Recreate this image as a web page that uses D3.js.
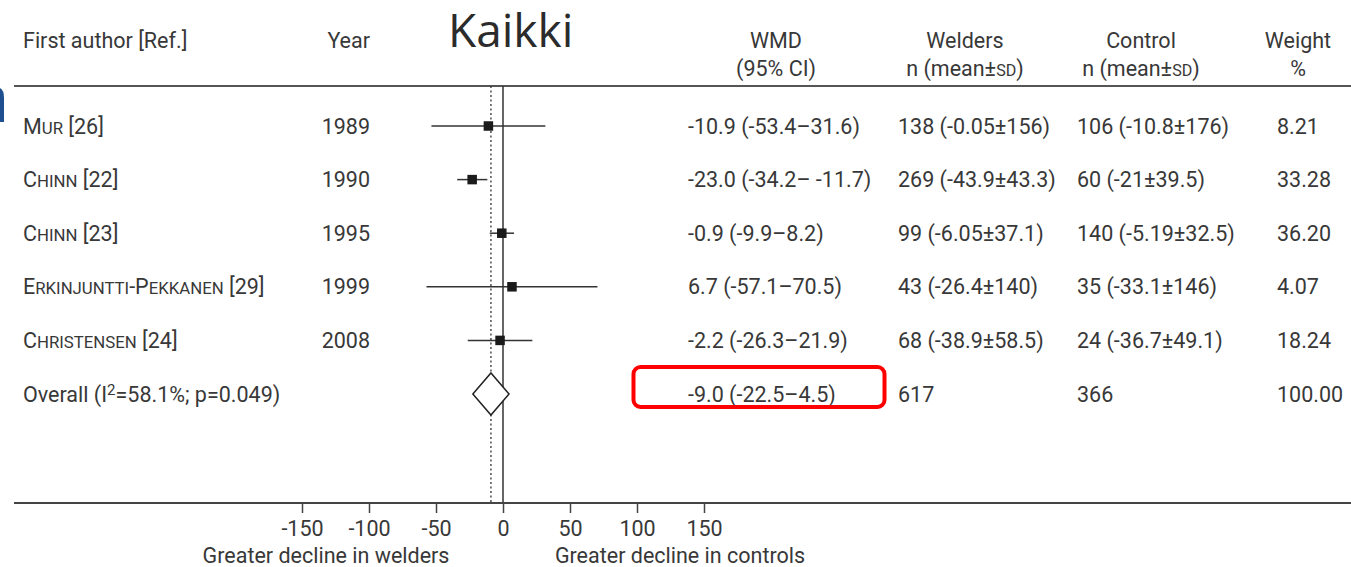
<!DOCTYPE html>
<html>
<head>
<meta charset="utf-8">
<script src="https://cdn.jsdelivr.net/npm/d3@7/dist/d3.min.js"></script>
<style>
  html, body { margin: 0; padding: 0; background: #fff; }
  svg { display: block; }
  text { font-family: Roboto, "Noto Sans", sans-serif; fill: #383838; }
</style>
</head>
<body>
<div id="main"></div>
<script>
// study rows
const authors = ['Mur', 'Chinn', 'Chinn', 'Erkinjuntti-Pekkanen', 'Christensen'];
const refs = [26, 22, 23, 29, 24];
const years = [1989, 1990, 1995, 1999, 2008];
const wmd = [-10.9, -23.0, -0.9, 6.7, -2.2];
const ciLow = [-53.4, -34.2, -9.9, -57.1, -26.3];
const ciHigh = [31.6, -11.7, 8.2, 70.5, 21.9];
const welders = ['138 (-0.05±156)', '269 (-43.9±43.3)', '99 (-6.05±37.1)', '43 (-26.4±140)', '68 (-38.9±58.5)'];
const controls = ['106 (-10.8±176)', '60 (-21±39.5)', '140 (-5.19±32.5)', '35 (-33.1±146)', '24 (-36.7±49.1)'];
const weights = ['8.21', '33.28', '36.20', '4.07', '18.24'];

// pooled estimate
const overallWmd = -9.0;
const overallLow = -22.5;
const overallHigh = 4.5;
const overallWelders = 617;
const overallControls = 366;
const overallWeight = '100.00';
const overallI2 = 58.1;
const overallP = 0.049;

const xTicks = [-150, -100, -50, 0, 50, 100, 150];

const width = 1351;
const height = 567;
const fs = 21.5;

const svg = d3.select('#main').append('svg')
    .attr('width', width)
    .attr('height', height);

const x = d3.scaleLinear()
    .domain([-150, 150])
    .range([302, 704]);
const y = d3.scaleLinear()
    .domain([0, 5])
    .range([126, 394]);

const topRule = 86;
const axisY = 503;

const fmt = (v) => v.toFixed(1);
const ciText = (w, lo, hi) => `${fmt(w)} (${fmt(lo)}–${hi < 0 ? ' ' : ''}${fmt(hi)})`;

// title
svg.append('text')
    .attr('x', 448)
    .attr('y', 47)
    .style('font-family', '"Open Sans", sans-serif')
    .style('font-size', '46px')
    .attr('fill', '#2b2b2b')
    .style('fill', '#2b2b2b')
    .text('Kaikki');

// blue fragment on the left edge
svg.append('path')
    .attr('d', 'M0,88 Q4,90 4,98 L4,122 L0,122 Z')
    .attr('fill', '#1d4f91');

// header
const header = svg.append('g').style('font-size', fs + 'px');
header.append('text').attr('x', 23).attr('y', 48).text('First author [Ref.]');
header.append('text').attr('x', 370).attr('y', 48).attr('text-anchor', 'end').text('Year');

function twoLine(cx, l1, l2) {
    header.append('text').attr('x', cx).attr('y', 48).attr('text-anchor', 'middle').text(l1);
    return header.append('text').attr('x', cx).attr('y', 76).attr('text-anchor', 'middle').text(l2);
}
twoLine(776, 'WMD', '(95% CI)');
['Welders', 'Control'].forEach((lab, i) => {
    const t = twoLine([965, 1141][i], lab, null).text('n (mean±');
    t.append('tspan').style('font-size', (fs * 0.75) + 'px').text('SD');
    t.append('tspan').text(')');
});
twoLine(1298, 'Weight', '%');

svg.append('line')
    .attr('x1', 14).attr('x2', width)
    .attr('y1', topRule).attr('y2', topRule)
    .attr('stroke', '#555').attr('stroke-width', 2);

// small caps author names
function smallCaps(sel, str) {
    const runs = [];
    for (const ch of str) {
        const big = ch !== ch.toLowerCase() || !/[a-z]/i.test(ch);
        if (runs.length && runs[runs.length - 1].big === big) runs[runs.length - 1].s += ch;
        else runs.push({ big: big, s: ch });
    }
    runs.forEach((r) => {
        sel.append('tspan')
            .style('font-size', r.big ? fs + 'px' : (fs * 0.78) + 'px')
            .text(r.big ? r.s : r.s.toUpperCase());
    });
}

const rows = svg.append('g').style('font-size', fs + 'px');
authors.forEach((a, i) => {
    const yy = y(i) + 7.5;
    const t = rows.append('text').attr('x', 23).attr('y', yy);
    smallCaps(t, a);
    t.append('tspan').text(` [${refs[i]}]`);
    rows.append('text').attr('x', 370).attr('y', yy).attr('text-anchor', 'end').text(years[i]);
    rows.append('text').attr('x', 688).attr('y', yy).text(ciText(wmd[i], ciLow[i], ciHigh[i]));
    rows.append('text').attr('x', 898).attr('y', yy).text(welders[i]);
    rows.append('text').attr('x', 1077).attr('y', yy).text(controls[i]);
    rows.append('text').attr('x', 1277).attr('y', yy).text(weights[i]);
});

const oy = y(5) + 7.5;
const ot = rows.append('text').attr('x', 23).attr('y', oy).text('Overall (I');
ot.append('tspan').attr('dy', -7).style('font-size', (fs * 0.7) + 'px').text('2');
ot.append('tspan').attr('dy', 7).text(`=${overallI2}%; p=${overallP})`);
rows.append('text').attr('x', 688).attr('y', oy).text(ciText(overallWmd, overallLow, overallHigh));
rows.append('text').attr('x', 898).attr('y', oy).text(overallWelders);
rows.append('text').attr('x', 1077).attr('y', oy).text(overallControls);
rows.append('text').attr('x', 1277).attr('y', oy).text(overallWeight);

// highlight box
svg.append('rect')
    .attr('x', 633.5).attr('y', 367)
    .attr('width', 251).attr('height', 40)
    .attr('rx', 7)
    .attr('fill', 'none')
    .attr('stroke', '#f00')
    .attr('stroke-width', 4);

// reference lines
const plot = svg.append('g');
plot.append('line')
    .attr('x1', x(overallWmd)).attr('x2', x(overallWmd))
    .attr('y1', topRule).attr('y2', axisY)
    .attr('stroke', '#333').attr('stroke-width', 1.3)
    .attr('stroke-dasharray', '2,2.5');
plot.append('line')
    .attr('x1', x(0)).attr('x2', x(0))
    .attr('y1', topRule).attr('y2', axisY)
    .attr('stroke', '#333').attr('stroke-width', 1.5);

// study CIs and points
plot.selectAll('line.ci')
    .data(wmd)
    .enter()
    .append('line')
    .attr('class', 'ci')
    .attr('x1', (d, i) => x(ciLow[i]))
    .attr('x2', (d, i) => x(ciHigh[i]))
    .attr('y1', (d, i) => y(i))
    .attr('y2', (d, i) => y(i))
    .attr('stroke', '#333')
    .attr('stroke-width', 1.5);

const sq = 9.5;
plot.selectAll('rect.pt')
    .data(wmd)
    .enter()
    .append('rect')
    .attr('class', 'pt')
    .attr('x', (d) => x(d) - sq / 2)
    .attr('y', (d, i) => y(i) - sq / 2)
    .attr('width', sq)
    .attr('height', sq)
    .attr('fill', '#1a1a1a');

// pooled diamond
const dy = y(5);
plot.append('path')
    .attr('d', `M${x(overallLow)},${dy} L${x(overallWmd)},${dy - 21} L${x(overallHigh)},${dy} L${x(overallWmd)},${dy + 21} Z`)
    .attr('fill', '#fff')
    .attr('stroke', '#222')
    .attr('stroke-width', 1.5);

// axis
svg.append('line')
    .attr('x1', 14).attr('x2', width)
    .attr('y1', axisY).attr('y2', axisY)
    .attr('stroke', '#444').attr('stroke-width', 2);

const xAxis = svg.append('g')
    .attr('transform', `translate(0, ${axisY})`)
    .call(d3.axisBottom(x).tickValues(xTicks).tickSize(10).tickPadding(8)
        .tickFormat((d) => String(d)));
xAxis.select('.domain').remove();
xAxis.selectAll('line').attr('stroke', '#444').attr('stroke-width', 1.5);
xAxis.selectAll('text')
    .style('font-family', 'Roboto, sans-serif')
    .style('font-size', fs + 'px')
    .attr('fill', '#383838');

svg.append('text').attr('x', 326).attr('y', 563).attr('text-anchor', 'middle')
    .style('font-size', fs + 'px').text('Greater decline in welders');
svg.append('text').attr('x', 680).attr('y', 563).attr('text-anchor', 'middle')
    .style('font-size', fs + 'px').text('Greater decline in controls');
</script>
</body>
</html>
